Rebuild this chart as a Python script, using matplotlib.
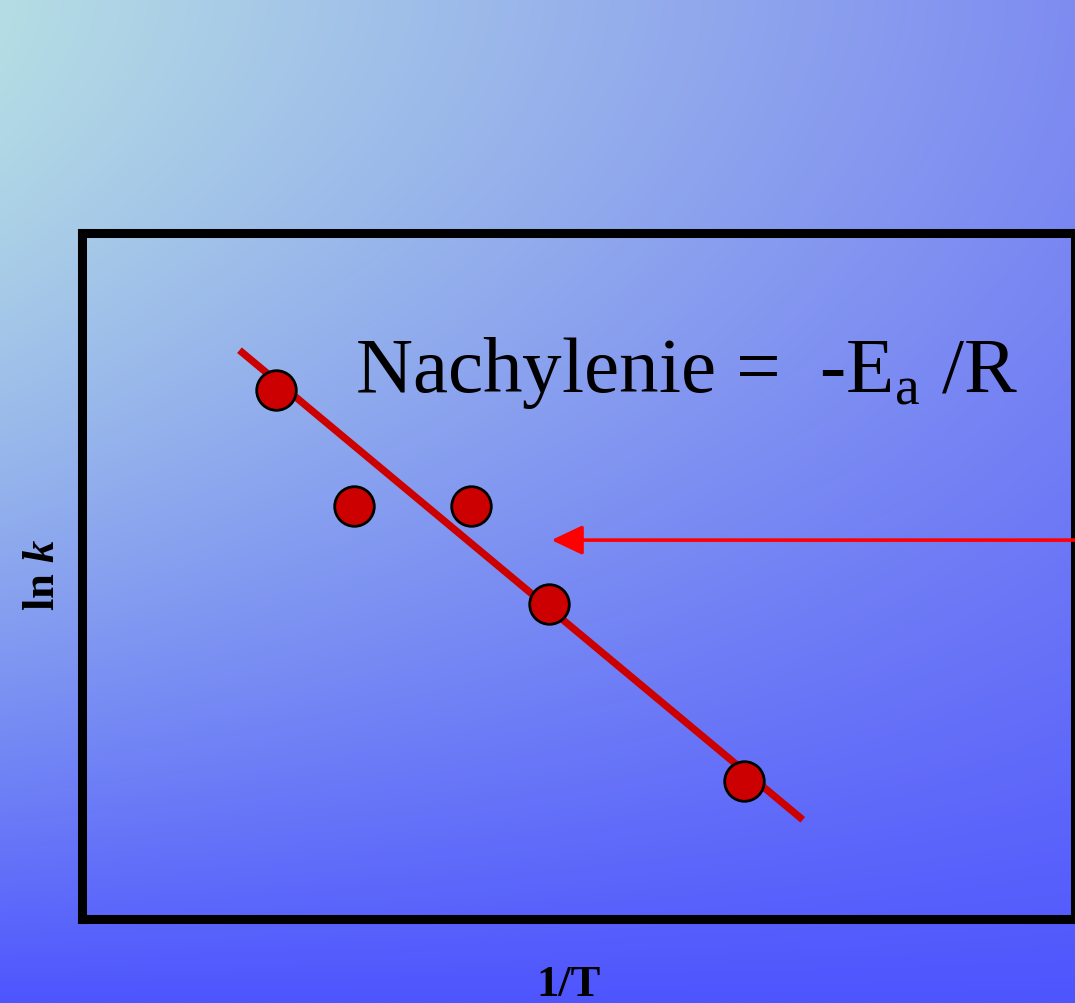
## Arrhenius plot: ln k vs 1/T
# %% Import
import numpy as np
import matplotlib.pyplot as plt

# %% Data (axis units 0..10, no ticks on the original)
inv_T = [1.96, 2.74, 3.92, 4.71, 6.67]
ln_k = [7.71, 6.02, 6.02, 4.59, 2.01]

# fitted line end points
fit_x = [1.59, 7.26]
fit_y = [8.29, 1.44]

# arrow pointing at the line
arrow_tip = (4.73, 5.52)
arrow_tail = (10.6, 5.52)

slope_label = r'Nachylenie =  -E$_\mathregular{a}$ /R'
x_label = '1/T'
y_label = r'ln $\mathbfit{k}$'

# %% Figure
W, H = 1075, 1004
fig = plt.figure(figsize=(W / 100, H / 100), dpi=100)

plt.rcParams['mathtext.fontset'] = 'custom'
plt.rcParams['mathtext.rm'] = 'Liberation Serif'
plt.rcParams['mathtext.bfit'] = 'Liberation Serif:italic:bold'

# gradient background: horizontal cyan->blue at top, fading to deep blue at bottom
tl = np.array([180, 221, 228]) / 255
tr = np.array([126, 140, 241]) / 255
bot = np.array([78, 85, 254]) / 255
u = np.linspace(0, 1, 200)[None, :, None]
v = np.linspace(0, 1, 200)[:, None, None] ** 1.6
grad = (1 - v) * ((1 - u) * tl + u * tr) + v * bot

bg = fig.add_axes([0, 0, 1, 1], zorder=0)
bg.imshow(grad, aspect='auto', extent=[0, 1, 0, 1], interpolation='bilinear')
bg.axis('off')

# main box
left, right = 81.5 / W, 1075 / W
bottom, top = 1 - 919.5 / H, 1 - 234 / H
ax = fig.add_axes([left, bottom, right - left, top - bottom], zorder=1)
ax.set_facecolor('none')
ax.set_xlim(0, 10)
ax.set_ylim(0, 10)
ax.set_xticks([])
ax.set_yticks([])
for s in ax.spines.values():
    s.set_linewidth(6.5)
    s.set_color('black')

# fitted line and points
ax.plot(fit_x, fit_y, color='#CC0000', linewidth=5.2, solid_capstyle='butt', zorder=2)
ax.plot(inv_T, ln_k, 'o', markersize=28.5, markerfacecolor='#CC0000',
        markeredgecolor='black', markeredgewidth=2, zorder=3)

# arrow
ax.annotate('', xy=arrow_tip, xytext=arrow_tail, annotation_clip=False,
            arrowprops=dict(arrowstyle='-|>,head_length=1.9,head_width=0.9',
                            color='#FF0000', lw=2.6, shrinkA=0, shrinkB=0))

# slope text
ax.text(2.754, 7.695, slope_label, fontsize=57, family='Liberation Serif',
        ha='left', va='baseline', color='black', zorder=4)

# axis labels (figure coords)
fig.text(43 / W, 1 - 575 / H, y_label, rotation=90, fontsize=32,
         family='Liberation Serif', fontweight='bold', ha='center', va='center')
fig.text(568 / W, 1 - 996 / H, x_label, fontsize=32, family='Liberation Serif',
         fontweight='bold', ha='center', va='baseline')

plt.savefig('out.png', dpi=100)
